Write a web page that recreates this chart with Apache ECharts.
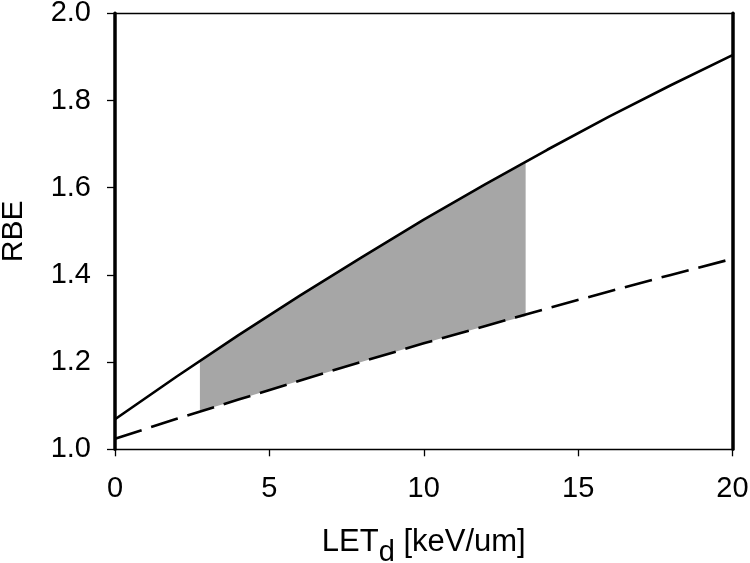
<!DOCTYPE html>
<html>
<head>
<meta charset="utf-8">
<script src="https://cdn.jsdelivr.net/npm/echarts@6/dist/echarts.min.js"></script>
<style>
html,body{margin:0;padding:0;background:#fff;}
#chart{width:750px;height:563px;}
</style>
</head>
<body>
<div id="chart"></div>
<script>
// LET values (keV/um) sampled along the curves
var letValues = [0, 2, 4, 6, 8, 10, 12, 14, 16, 18, 20];
// upper (solid) RBE curve
var rbeSolid = [1.069, 1.167, 1.262, 1.353, 1.441, 1.527, 1.608, 1.687, 1.763, 1.835, 1.904];
// lower (dashed) RBE curve
var rbeDashed = [1.024, 1.070, 1.114, 1.158, 1.201, 1.243, 1.283, 1.323, 1.362, 1.400, 1.437];
// shaded band between the curves
var bandLet = [2.75, 4, 6, 8, 10, 12, 13.3];
var bandLow = [1.087, 1.114, 1.158, 1.201, 1.243, 1.283, 1.305];
var bandHigh = [1.203, 1.262, 1.353, 1.441, 1.527, 1.608, 1.656];
// axis ticks
var xTicks = [0, 5, 10, 15, 20];
var yTicks = [1.0, 1.2, 1.4, 1.6, 1.8, 2.0];

var FONT = "'Liberation Sans', Arial, sans-serif";

function zip(xs, ys) { return xs.map(function (x, i) { return [x, ys[i]]; }); }
var bandData = bandLet.map(function (x, i) { return [x, bandLow[i], bandHigh[i]]; });

var chart = echarts.init(document.getElementById('chart'), null, { renderer: 'canvas' });
chart.setOption({
  animation: false,
  backgroundColor: '#ffffff',
  grid: { left: 115, right: 17.5, top: 13.3, bottom: 113.7, containLabel: false, outerBoundsMode: 'none' },
  xAxis: [{
    type: 'value',
    min: xTicks[0], max: xTicks[xTicks.length - 1], interval: 5,
    position: 'bottom',
    axisLine: { onZero: false, lineStyle: { color: '#000', width: 1.3 } },
    axisTick: { show: true, inside: false, length: 7, lineStyle: { color: '#000', width: 1.3 } },
    axisLabel: { color: '#000', fontFamily: FONT, fontSize: 29, margin: 25 },
    splitLine: { show: false },
    name: '{a|LET}{b|d}{a| [keV/um]}',
    nameLocation: 'middle',
    nameGap: 68,
    nameTextStyle: {
      rich: {
        a: { fontFamily: FONT, fontSize: 31, color: '#000' },
        b: { fontFamily: FONT, fontSize: 29, color: '#000', padding: [21, 0, 0, 0] }
      }
    }
  }, {
    type: 'value',
    min: xTicks[0], max: xTicks[xTicks.length - 1],
    position: 'top',
    axisLine: { onZero: false, lineStyle: { color: '#000', width: 1.3 } },
    axisTick: { show: false }, axisLabel: { show: false }, splitLine: { show: false }
  }],
  yAxis: [{
    type: 'value',
    min: yTicks[0], max: yTicks[yTicks.length - 1], interval: 0.2,
    position: 'left',
    axisLine: { onZero: false, lineStyle: { color: '#000', width: 3.5 } },
    axisTick: { show: true, inside: false, length: 8, lineStyle: { color: '#000', width: 1.3 } },
    axisLabel: { color: '#000', fontFamily: FONT, fontSize: 29, margin: 24,
      formatter: function (v) { return v.toFixed(1); } },
    splitLine: { show: false },
    name: 'RBE',
    nameLocation: 'middle',
    nameGap: 86,
    nameTextStyle: { fontFamily: FONT, fontSize: 30, color: '#000' }
  }, {
    type: 'value',
    min: yTicks[0], max: yTicks[yTicks.length - 1],
    position: 'right',
    axisLine: { onZero: false, lineStyle: { color: '#000', width: 3.5 } },
    axisTick: { show: false }, axisLabel: { show: false }, splitLine: { show: false }
  }],
  series: [
    {
      name: 'band', type: 'custom', data: bandData,
      encode: { x: 0, y: [1, 2] }, z: 1, silent: true,
      renderItem: function (params, api) {
        if (params.dataIndex !== 0) { return null; }
        var pts = [];
        var i;
        for (i = 0; i < bandLet.length; i++) { pts.push(api.coord([bandLet[i], bandHigh[i]])); }
        for (i = bandLet.length - 1; i >= 0; i--) { pts.push(api.coord([bandLet[i], bandLow[i]])); }
        return { type: 'polygon', shape: { points: pts }, style: { fill: '#a6a6a6', stroke: null } };
      }
    },
    {
      name: 'dashed', type: 'line', data: zip(letValues, rbeDashed),
      symbol: 'none', lineStyle: { color: '#000', width: 2.6, type: [28, 10] }, z: 3
    },
    {
      name: 'solid', type: 'line', data: zip(letValues, rbeSolid),
      symbol: 'none', lineStyle: { color: '#000', width: 2.6 }, z: 3
    }
  ]
});
</script>
</body>
</html>
